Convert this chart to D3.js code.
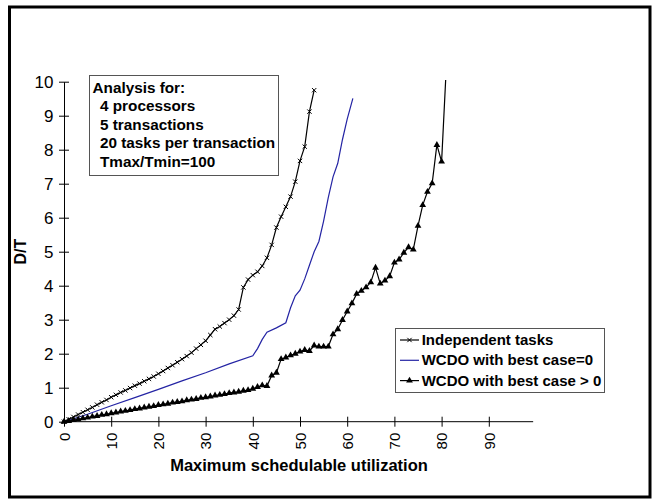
<!DOCTYPE html>
<html>
<head>
<meta charset="utf-8">
<script src="https://cdn.jsdelivr.net/npm/d3@7"></script>
<style>
  body { margin: 0; background: #fff; }
  text { font-family: "Liberation Sans", Arial, sans-serif; }
</style>
</head>
<body>
<div id="chart"></div>
<script>
// Independent tasks
var indepX = [0,1,2,3,4,5,6,7,8,9,10,11,12,13,14,15,16,17,18,19,20,21,22,23,24,25,26,27,28,29,30,31,32,33,34,35,36,37,38,39,40,41,42,43,44,45,46,47,48,49,50,51,52,53];
var indepY = [0,0.07,0.14,0.21,0.28,0.35,0.42,0.5,0.57,0.64,0.72,0.79,0.86,0.92,0.99,1.06,1.12,1.19,1.26,1.33,1.41,1.49,1.58,1.66,1.75,1.84,1.93,2.03,2.15,2.26,2.38,2.55,2.72,2.8,2.9,3.0,3.12,3.3,3.95,4.18,4.31,4.41,4.58,4.82,5.2,5.71,6.03,6.32,6.62,7.06,7.67,8.09,9.12,9.75];

// WCDO with best case = 0
var wcdo0X = [0,5,10,15,20,25,30,35,40,41,42,43,45,47,48,49,50,51,52,53,54,55,56,57,58,59,60,61.2];
var wcdo0Y = [0,0.22,0.47,0.71,0.95,1.2,1.44,1.7,1.94,2.15,2.42,2.63,2.76,2.91,3.35,3.7,3.87,4.2,4.6,5.0,5.3,5.9,6.6,7.2,7.6,8.3,8.9,9.51];

// WCDO with best case > 0
var wcdoX = [0,1,2,3,4,5,6,7,8,9,10,11,12,13,14,15,16,17,18,19,20,21,22,23,24,25,26,27,28,29,30,31,32,33,34,35,36,37,38,39,40,41,42,43,44,45,46,47,48,49,50,51,52,53,54,55,56,57,58,59,60,61,62,63,64,65,66,67,68,69,70,71,72,73,74,75,76,77,78,79,80,81.2];
var wcdoY = [0,0.02,0.05,0.07,0.1,0.12,0.15,0.17,0.2,0.22,0.25,0.27,0.3,0.32,0.34,0.37,0.39,0.42,0.44,0.46,0.49,0.51,0.53,0.56,0.58,0.6,0.63,0.65,0.67,0.7,0.72,0.74,0.77,0.79,0.81,0.84,0.86,0.88,0.91,0.93,0.97,1.02,1.07,1.05,1.36,1.44,1.84,1.89,1.95,2.0,2.06,2.11,2.08,2.24,2.21,2.21,2.21,2.57,2.72,2.99,3.24,3.48,3.76,3.85,3.95,4.1,4.53,4.06,4.15,4.28,4.68,4.77,4.97,5.13,5.06,5.76,6.37,6.76,7.01,8.14,7.65,11];

var xTicks = [0,10,20,30,40,50,60,70,80,90];
var yTicks = [0,1,2,3,4,5,6,7,8,9,10];
var seriesNames = ["Independent tasks", "WCDO with best case=0", "WCDO with best case > 0"];
var noteLines = ["Analysis for:", "4 processors", "5 transactions", "20 tasks per transaction", "Tmax/Tmin=100"];

var FONT = "'Liberation Sans', Arial, sans-serif";

function zip(xs, ys) { return xs.map(function(d, i){ return [d, ys[i]]; }); }

var width = 652, height = 502;
var svg = d3.select("#chart").append("svg")
  .attr("width", width).attr("height", height);

// outer frame
svg.append("rect")
  .attr("x", 9.5).attr("y", 7).attr("width", 640.5).attr("height", 490)
  .attr("fill", "none").attr("stroke", "#000").attr("stroke-width", 3);

var x = d3.scaleLinear().domain([0, 100]).range([64, 536]);
var y = d3.scaleLinear().domain([0, 10]).range([421.7, 81.7]);

svg.append("defs").append("clipPath").attr("id", "plotclip")
  .append("rect").attr("x", x(0) - 10).attr("y", y(10) - 1.7)
  .attr("width", x(100) - x(0) + 20).attr("height", y(0) - y(10) + 10);

// Y axis
var yAxis = svg.append("g")
  .attr("transform", "translate(" + x(0) + ",0)")
  .call(d3.axisLeft(y).tickValues(yTicks).tickSize(5).tickSizeOuter(0).tickPadding(6));
yAxis.select(".domain").attr("stroke", "#000");
yAxis.selectAll(".tick line").attr("x2", 5).attr("x1", -5);
yAxis.selectAll(".tick text").attr("font-size", 17).attr("fill", "#000")
  .attr("font-family", FONT).attr("x", -10.5);

// X axis
var xAxis = svg.append("g")
  .attr("transform", "translate(0," + y(0) + ")")
  .call(d3.axisBottom(x).tickValues(xTicks).tickSize(5).tickSizeOuter(0));
xAxis.select(".domain").attr("d", "M" + x(0) + ",0H" + x(99.4)).attr("stroke", "#000");
xAxis.selectAll(".tick line").attr("y1", -5).attr("y2", 5);
xAxis.selectAll(".tick text")
  .attr("font-size", 15).attr("fill", "#000")
  .attr("font-family", FONT)
  .attr("text-anchor", "end")
  .attr("transform", "rotate(-90)")
  .attr("x", -11).attr("y", 0).attr("dy", "0.35em");

// axis titles
svg.append("text")
  .attr("x", 299).attr("y", 471)
  .attr("text-anchor", "middle").attr("font-weight", "bold").attr("font-size", 16.5)
  .text("Maximum schedulable utilization");
svg.append("text")
  .attr("transform", "translate(26," + ((y(0) + y(10)) / 2) + ") rotate(-90)")
  .attr("text-anchor", "middle").attr("font-weight", "bold").attr("font-size", 16)
  .text("D/T");

var line = d3.line().x(function(d){ return x(d[0]); }).y(function(d){ return y(d[1]); });
var crossSym = d3.symbol().type(d3.symbolTimes).size(14);
var triSym = d3.symbol().type(d3.symbolTriangle).size(20);

var plot = svg.append("g").attr("clip-path", "url(#plotclip)");

// WCDO best case = 0 (blue)
plot.append("path").datum(zip(wcdo0X, wcdo0Y))
  .attr("d", line).attr("fill", "none").attr("stroke", "#2424a4").attr("stroke-width", 1.2);

// Independent tasks
var indep = zip(indepX, indepY);
plot.append("path").datum(indep)
  .attr("d", line).attr("fill", "none").attr("stroke", "#000").attr("stroke-width", 1.2);
plot.selectAll(".xm").data(indep).enter().append("path")
  .attr("class", "xm")
  .attr("transform", function(d){ return "translate(" + x(d[0]) + "," + y(d[1]) + ")"; })
  .attr("d", crossSym).attr("fill", "none").attr("stroke", "#000").attr("stroke-width", 1);

// WCDO best case > 0
var wcdo = zip(wcdoX, wcdoY);
plot.append("path").datum(wcdo)
  .attr("d", line).attr("fill", "none").attr("stroke", "#000").attr("stroke-width", 1.2);
plot.selectAll(".tm").data(wcdo).enter().append("path")
  .attr("class", "tm")
  .attr("transform", function(d){ return "translate(" + x(d[0]) + "," + y(d[1]) + ")"; })
  .attr("d", triSym).attr("fill", "#000");

// note box
svg.append("rect")
  .attr("x", 89.5).attr("y", 75.5).attr("width", 189).attr("height", 100)
  .attr("fill", "#fff").attr("stroke", "#555").attr("stroke-width", 1);
svg.selectAll(".note").data(noteLines).enter().append("text")
  .attr("class", "note")
  .attr("x", function(d, i){ return i === 0 ? 92.5 : 100; })
  .attr("y", function(d, i){ return 93 + i * 18.4; })
  .attr("font-weight", "bold").attr("font-size", 15.3)
  .text(function(d){ return d; });

// legend
svg.append("rect")
  .attr("x", 395.5).attr("y", 328.5).attr("width", 209).attr("height", 64)
  .attr("fill", "#fff").attr("stroke", "#555").attr("stroke-width", 1);
var legendColors = ["#000", "#2424a4", "#000"];
var lg = svg.selectAll(".lg").data(seriesNames).enter().append("g")
  .attr("class", "lg")
  .attr("transform", function(d, i){ return "translate(0," + (345 + i * 20.3) + ")"; });
lg.append("line")
  .attr("x1", 400).attr("x2", 419).attr("y1", -5).attr("y2", -5)
  .attr("stroke", function(d, i){ return legendColors[i]; }).attr("stroke-width", 1.2);
lg.filter(function(d, i){ return i === 0; }).append("path")
  .attr("transform", "translate(409.5,-5)")
  .attr("d", crossSym).attr("fill", "none").attr("stroke", "#000");
lg.filter(function(d, i){ return i === 2; }).append("path")
  .attr("transform", "translate(409.5,-5)")
  .attr("d", triSym).attr("fill", "#000");
lg.append("text")
  .attr("x", 421.7).attr("y", 0)
  .attr("font-weight", "bold").attr("font-size", 15)
  .text(function(d){ return d; });
</script>
</body>
</html>
